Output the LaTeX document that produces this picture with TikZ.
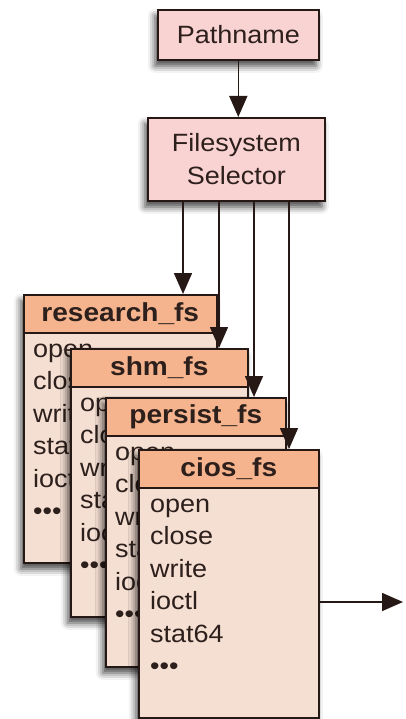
\documentclass[tikz,border=0pt]{standalone}
\usepackage{fontspec}
\setmainfont[FakeStretch=1.08]{Liberation Sans}
\usetikzlibrary{arrows.meta,shadows.blur}

\definecolor{edge}{RGB}{38,24,20}
\definecolor{ink}{RGB}{45,32,28}
\definecolor{headc}{RGB}{246,180,142}
\definecolor{bodyc}{RGB}{245,223,211}
\definecolor{pinkc}{RGB}{249,210,210}

\tikzset{
  soft/.style={blur shadow={shadow xshift=-3pt, shadow yshift=-6pt, shadow blur radius=7pt, shadow opacity=75}},
  procbox/.style={draw=edge, line width=1.6pt, fill=pinkc, inner sep=0pt, anchor=north west,
    align=center, text=ink, font=\fontsize{25}{33}\selectfont, soft},
  fsbox/.style={draw=edge, line width=1.6pt, fill=bodyc, inner sep=0pt, anchor=north west, soft},
  fshead/.style={draw=edge, line width=1.6pt, fill=headc, inner sep=0pt, anchor=north west,
    minimum height=38pt, text=ink, font=\fontsize{26}{30}\selectfont\bfseries},
  fslist/.style={inner sep=0pt, anchor=north west, align=left, text=ink,
    font=\fontsize{25}{32.5}\selectfont},
  arr/.style={draw=edge, line width=1.6pt, -{Triangle[length=21pt,width=18pt]}},
}

\begin{document}
\begin{tikzpicture}[x=1pt,y=-1pt]
\useasboundingbox (0,0) rectangle (406,719);

% top of the chain
\node[procbox, minimum width=161pt, minimum height=50pt] (path) at (157,9) {Pathname};
\node[procbox, minimum width=177pt, minimum height=83pt] (sel) at (147,117) {Filesystem\\Selector};
\draw[arr] (path) -- (path.south |- sel.north);

% research_fs
\node[fsbox, minimum width=193pt, minimum height=268pt] (research) at (23,294) {};
\node[fshead, minimum width=193pt] (researchh) at (23,294) {research\_fs};
\node[fslist] (researchl) at (33,334.3) {\strut open\\close\\write\\stat\\ioctl\\•••};

% shm_fs
\node[fsbox, minimum width=177pt, minimum height=268pt] (shm) at (70,348) {};
\node[fshead, minimum width=177pt] (shmh) at (70,348) {shm\_fs};
\node[fslist] (shml) at (80,388.3) {\strut open\\close\\write\\stat\\ioctl\\•••};

% persist_fs
\node[fsbox, minimum width=180pt, minimum height=269pt] (persist) at (105,397) {};
\node[fshead, minimum width=180pt] (persisth) at (105,397) {persist\_fs};
\node[fslist] (persistl) at (115,437.3) {\strut open\\close\\write\\stat\\ioctl\\•••};

% cios_fs
\node[fsbox, minimum width=180pt, minimum height=268pt] (cios) at (138,449) {};
\node[fshead, minimum width=180pt] (ciosh) at (138,449) {cios\_fs};
\node[fslist] (ciosl) at (150,489.3) {\strut open\\close\\write\\ioctl\\stat64\\•••};

% selector fan-out
\coordinate (s1) at ([xshift=36pt]sel.south west);
\coordinate (s2) at ([xshift=72pt]sel.south west);
\coordinate (s3) at ([xshift=107pt]sel.south west);
\coordinate (s4) at ([xshift=142pt]sel.south west);
\draw[arr] (s1) -- (s1 |- research.north);
\draw[arr] (s2) -- (s2 |- shm.north);
\draw[arr] (s3) -- (s3 |- persist.north);
\draw[arr] (s4) -- (s4 |- cios.north);

% output
\coordinate (out) at (403,602);
\draw[arr] (cios.east |- out) -- (out);
\end{tikzpicture}
\end{document}
